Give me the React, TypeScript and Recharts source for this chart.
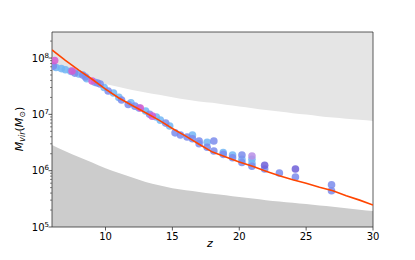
import React from 'react';
import { ComposedChart, Area, Scatter, XAxis, YAxis, ReferenceArea } from 'recharts';

const zGrid = [6, 7, 8, 9, 10, 11, 12, 13, 14, 15, 16, 17, 18, 19, 20, 21, 22, 23, 24, 25, 26, 27, 28, 29, 30];
const upperEdge = [6.7e7, 5.6e7, 4.75e7, 4.0e7, 3.45e7, 3.05e7, 2.7e7, 2.45e7, 2.22e7, 2.02e7, 1.84e7, 1.7e7, 1.6e7, 1.48e7, 1.38e7, 1.29e7, 1.2e7, 1.12e7, 1.05e7, 9.9e6, 9.3e6, 8.8e6, 8.4e6, 8.0e6, 7.6e6];
const lowerEdge = [2.86e6, 2.22e6, 1.75e6, 1.4e6, 1.11e6, 9.1e5, 7.6e5, 6.3e5, 5.5e5, 4.9e5, 4.5e5, 4.2e5, 3.9e5, 3.65e5, 3.4e5, 3.2e5, 3.0e5, 2.85e5, 2.7e5, 2.56e5, 2.42e5, 2.3e5, 2.15e5, 2.03e5, 1.92e5];
const fitLine = [1.39e8, 9.1e7, 6.1e7, 4.2e7, 2.8e7, 1.95e7, 1.44e7, 1.07e7, 7.9e6, 5.6e6, 4.1e6, 2.95e6, 2.14e6, 1.75e6, 1.43e6, 1.2e6, 9.8e5, 8.1e5, 6.9e5, 6.0e5, 5.1e5, 4.4e5, 3.6e5, 3.0e5, 2.46e5];

const lightZ = [6.3, 6.7, 7.0, 7.4, 8.0, 8.6, 9.2, 9.9, 10.6, 11.0, 11.9, 12.5, 13.0, 13.8, 14.1, 14.8, 16.5, 17.6, 18.8, 19.5, 20.2, 20.95, 20.95];
const lightM = [6.8e7, 6.5e7, 6.2e7, 5.8e7, 5.2e7, 4.3e7, 3.7e7, 3.0e7, 2.4e7, 2.0e7, 1.6e7, 1.3e7, 1.15e7, 9.0e6, 7.9e6, 6.2e6, 4.3e6, 3.2e6, 2.1e6, 1.9e6, 1.6e6, 1.6e6, 1.35e6];
const blueZ = [6.1, 7.7, 8.3, 8.5, 9.4, 9.6, 10.2, 11.2, 11.7, 12.2, 13.3, 14.5, 15.2, 15.6, 16.1, 16.5, 17.0, 17.0, 17.6, 18.1, 18.1, 18.8, 19.5, 20.2, 20.2, 20.95, 21.9, 23.0, 24.2, 26.9, 26.9];
const blueM = [7.2e7, 5.4e7, 5.0e7, 4.6e7, 3.6e7, 3.45e7, 2.6e7, 1.8e7, 1.5e7, 1.4e7, 1.0e7, 7.0e6, 4.7e6, 4.3e6, 3.96e6, 3.7e6, 3.37e6, 3.0e6, 2.6e6, 3.37e6, 2.23e6, 1.95e6, 1.7e6, 1.9e6, 1.4e6, 1.2e6, 1.07e6, 9.1e5, 7.7e5, 5.6e5, 4.4e5];
const purpleZ = [21.9, 24.2];
const purpleM = [1.25e6, 1.07e6];
const magentaZ = [6.2, 7.5, 9.0, 12.6, 13.5];
const magentaM = [9.0e7, 5.9e7, 3.9e7, 1.3e7, 9.3e6];
const lavenderZ = [20.95];
const lavenderM = [1.82e6];

const xTicks = [10, 15, 20, 25, 30];
const yMajor = [1e5, 1e6, 1e7, 1e8];
const Y_TOP = 2.9e8;

const yTicks: number[] = [];
for (const base of [1e5, 1e6, 1e7, 1e8]) {
  for (let k = 1; k <= 9; k++) {
    if (base * k <= Y_TOP) yTicks.push(base * k);
  }
}

const curveData = zGrid.map((z, i) => ({ z, up: upperEdge[i], low: lowerEdge[i] }));
const fitData = zGrid.map((z, i) => ({ z, m: fitLine[i] }));
const pts = (zs: number[], ms: number[]) => zs.map((z, i) => ({ z, m: ms[i] }));

const FONT = 'DejaVu Sans, sans-serif';
const AXIS = '#333';

function Dot(props: any) {
  const { cx, cy, fill } = props;
  if (cx == null || cy == null) return null;
  return <circle cx={cx} cy={cy} r={3.8} fill={fill} fillOpacity={0.85} />;
}

function YTick(props: any) {
  const { x, y, payload } = props;
  const v = payload.value;
  const major = yMajor.some((m) => Math.abs(m - v) / m < 1e-6);
  if (!major) {
    return <line x1={x - 2} x2={x} y1={y} y2={y} stroke={AXIS} strokeWidth={0.6} />;
  }
  const exp = Math.round(Math.log10(v));
  return (
    <g>
      <line x1={x - 3.5} x2={x} y1={y} y2={y} stroke={AXIS} strokeWidth={0.8} />
      <text x={x - 3} y={y + 3.5} textAnchor="end" fontFamily={FONT} fontSize={10} fill="#000">
        <tspan>10</tspan>
        <tspan dy={-4} fontSize={7}>{exp}</tspan>
      </text>
    </g>
  );
}

function XTick(props: any) {
  const { x, y, payload } = props;
  return (
    <g>
      <line x1={x} x2={x} y1={y} y2={y + 3.5} stroke={AXIS} strokeWidth={0.8} />
      <text x={x} y={y + 13} textAnchor="middle" fontFamily={FONT} fontSize={10} fill="#000">
        {payload.value}
      </text>
    </g>
  );
}

export default function App() {
  return (
    <div style={{ position: 'absolute', left: 0, top: 0, width: 415, height: 260, background: '#fff' }}>
      <ComposedChart width={415} height={260} data={curveData} margin={{ top: 32, right: 42, bottom: 13, left: 12 }}>
        <XAxis
          dataKey="z"
          type="number"
          domain={[6, 30]}
          ticks={xTicks}
          allowDataOverflow
          height={20}
          tickSize={0}
          tickMargin={0}
          tickLine={false}
          axisLine={false}
          interval={0}
          tick={(p: any) => <XTick {...p} />}
        />
        <YAxis
          scale="log"
          type="number"
          domain={[1e5, Y_TOP]}
          ticks={yTicks}
          allowDataOverflow
          width={40}
          tickSize={0}
          tickMargin={0}
          tickLine={false}
          axisLine={false}
          interval={0}
          tick={(p: any) => <YTick {...p} />}
        />
        <Area
          dataKey={(d: any) => [d.up, Y_TOP]}
          type="monotone"
          fill="#e5e5e5"
          fillOpacity={1}
          stroke="none"
          isAnimationActive={false}
        />
        <Area
          dataKey={(d: any) => [1e5, d.low]}
          type="monotone"
          fill="#cccccc"
          fillOpacity={1}
          stroke="none"
          isAnimationActive={false}
        />
        <Scatter data={pts(lightZ, lightM)} dataKey="m" fill="#72b6f4" shape={<Dot />} isAnimationActive={false} />
        <Scatter data={pts(blueZ, blueM)} dataKey="m" fill="#7b8cec" shape={<Dot />} isAnimationActive={false} />
        <Scatter data={pts(purpleZ, purpleM)} dataKey="m" fill="#6f5fd8" shape={<Dot />} isAnimationActive={false} />
        <Scatter data={pts(magentaZ, magentaM)} dataKey="m" fill="#d65ad0" shape={<Dot />} isAnimationActive={false} />
        <Scatter data={pts(lavenderZ, lavenderM)} dataKey="m" fill="#b88ee6" shape={<Dot />} isAnimationActive={false} />
        {/* fit curve drawn as a scatter line so it sits above the points */}
        <Scatter
          data={fitData}
          dataKey="m"
          line={{ stroke: '#ff4500', strokeWidth: 1.6 }}
          lineType="joint"
          shape={() => <g />}
          isAnimationActive={false}
        />
        <ReferenceArea x1={6} x2={30} y1={1e5} y2={Y_TOP} fill="none" stroke={AXIS} strokeWidth={0.8} />
      </ComposedChart>
      <div
        style={{
          position: 'absolute',
          left: 207,
          top: 237,
          fontFamily: FONT,
          fontSize: 11,
          fontStyle: 'italic',
        }}
      >
        z
      </div>
      <svg width={30} height={120} style={{ position: 'absolute', left: 8, top: 70 }}>
        <text
          transform="translate(15,59) rotate(-90)"
          textAnchor="middle"
          fontFamily={FONT}
          fontSize={11}
          fill="#000"
        >
          <tspan fontStyle="italic">M</tspan>
          <tspan fontStyle="italic" fontSize={8} dy={2}>vir</tspan>
          <tspan dy={-2}>(</tspan>
          <tspan fontStyle="italic">M</tspan>
          <tspan fontSize={8} dy={2}>⊙</tspan>
          <tspan dy={-2}>)</tspan>
        </text>
      </svg>
    </div>
  );
}
